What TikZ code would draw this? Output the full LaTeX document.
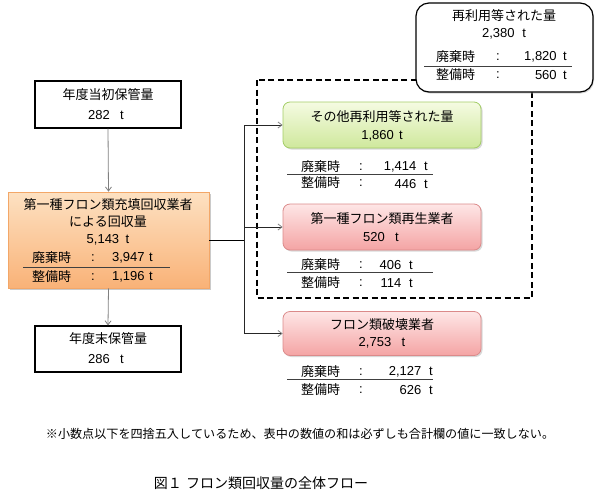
\documentclass[tikz,border=0pt]{standalone}
\usepackage{fontspec}
\setmainfont{Liberation Sans}
\newfontfamily\cjk{Noto Sans CJK JP}
\newfontfamily\cjkfull[Kerning=Off]{Noto Sans CJK JP}
\usetikzlibrary{arrows.meta,shadows}
\definecolor{orTop}{HTML}{FDE1C2}
\definecolor{orBot}{HTML}{F9B277}
\definecolor{orLine}{HTML}{F3A768}
\definecolor{grTop}{HTML}{F5FBE2}
\definecolor{grBot}{HTML}{CFE89C}
\definecolor{grLine}{HTML}{A3CD66}
\definecolor{rdTop}{HTML}{FEE6E6}
\definecolor{rdBot}{HTML}{F4A4A4}
\definecolor{rdLine}{HTML}{DB8A8A}
\newcommand\tunit[2][0.6em]{#2\hspace{#1}t}
\begin{document}
\begin{tikzpicture}[x=1pt,y=-1pt,
  txt/.style={inner sep=0pt,font=\fontsize{13}{15}\selectfont},
  plainbox/.style={draw=black,line width=1.2pt,fill=white,inner sep=0pt},
  orbox/.style={draw=orLine,line width=0.8pt,top color=orTop,bottom color=orBot,inner sep=0pt,
    drop shadow={shadow xshift=2pt,shadow yshift=-2pt,fill=black!35,opacity=0.6}},
  grbox/.style={draw=grLine,line width=0.8pt,rounded corners=7pt,top color=grTop,bottom color=grBot,inner sep=0pt,
    drop shadow={shadow xshift=1.5pt,shadow yshift=-1.5pt,fill=black!30,opacity=0.5}},
  rdbox/.style={draw=rdLine,line width=0.8pt,rounded corners=7pt,top color=rdTop,bottom color=rdBot,inner sep=0pt,
    drop shadow={shadow xshift=1.5pt,shadow yshift=-1.5pt,fill=black!30,opacity=0.5}},
  garrow/.style={draw=black!50,line width=0.8pt,-{Straight Barb[length=4pt,width=6pt]}},
  conn/.style={draw=black!85,line width=0.8pt,-{Straight Barb[length=4pt,width=6pt,color=black!50]}},
  rule/.style={draw=black!75,line width=1pt},
  dashbox/.style={draw=black,line width=1.6pt,dash pattern=on 6pt off 3.5pt}
]
\useasboundingbox (0,0) rectangle (599,496);

% dashed group
\draw[dashbox] (257,80) rectangle (532,298);

% top right box
\node[plainbox,rounded corners=13pt,minimum width=177pt,minimum height=89pt,
  drop shadow={shadow xshift=1pt,shadow yshift=-1.5pt,fill=black!30,opacity=0.5}] (top) at (504.5,47.5) {};
\node[txt] (topt1) at (504,16) {\cjk 再利用等された量};
\node[txt] (topt2) at (504,34) {\tunit{2,380}};
\node[txt,anchor=west] (topl1) at (436,57) {\cjk 廃棄時};
\node[txt] (topc1) at (498,57) {:};
\node[txt,anchor=east] (topn1) at (567,57) {\tunit[0.5em]{1,820}};
\draw[rule] (424,66.5) -- (572,66.5);
\node[txt,anchor=west] (topl2) at (436,75) {\cjk 整備時};
\node[txt] (topc2) at (498,75) {:};
\node[txt,anchor=east] (topn2) at (567,75) {\tunit[0.5em]{560}};

% left column
\node[plainbox,minimum width=146pt,minimum height=47pt] (start) at (108,104.5) {};
\node[txt] (startt1) at (108,95) {\cjk 年度当初保管量};
\node[txt] (startt2) at (106,115) {\tunit[0.8em]{282}};

\node[orbox,minimum width=201pt,minimum height=96pt] (coll) at (108.5,240) {};
\node[txt] (collt1) at (108,205) {\cjk 第一種フロン類充填回収業者};
\node[txt] (collt2) at (108,222) {\cjk による回収量};
\node[txt] (collt3) at (108,240) {\tunit[0.5em]{5,143}};
\node[txt,anchor=west] (colll1) at (32,258) {\cjk 廃棄時};
\node[txt] (collc1) at (93,258) {:};
\node[txt,anchor=east] (colln1) at (153,258) {\tunit[0.35em]{3,947}};
\draw[rule] (23,267) -- (170,267);
\node[txt,anchor=west] (colll2) at (32,277) {\cjk 整備時};
\node[txt] (collc2) at (93,277) {:};
\node[txt,anchor=east] (colln2) at (153,277) {\tunit[0.35em]{1,196}};

\node[plainbox,minimum width=146pt,minimum height=46pt] (end) at (108,349) {};
\node[txt] (endt1) at (108,339) {\cjk 年度末保管量};
\node[txt] (endt2) at (106,359) {\tunit[0.8em]{286}};

\draw[garrow] (start.south) -- (coll.north);
\draw[garrow] (coll.south) -- (end.north);

% right column
\node[grbox,minimum width=198pt,minimum height=46pt] (green) at (382,125) {};
\node[txt] (greent1) at (382,117) {\cjk その他再利用等された量};
\node[txt] (greent2) at (382,136) {\tunit[0.4em]{1,860}};
\node[txt,anchor=west] (greenl1) at (301,167) {\cjk 廃棄時};
\node[txt] (greenc1) at (361,167) {:};
\node[txt,anchor=east] (greenn1) at (428,167) {\tunit{1,414}};
\draw[rule] (287,174) -- (433,174);
\node[txt,anchor=west] (greenl2) at (301,183) {\cjk 整備時};
\node[txt] (greenc2) at (361,183) {:};
\node[txt,anchor=east] (greenn2) at (428,184) {\tunit{446}};

\node[rdbox,minimum width=198pt,minimum height=46pt] (regen) at (382,227) {};
\node[txt] (regent1) at (382,219) {\cjk 第一種フロン類再生業者};
\node[txt] (regent2) at (381,237) {\tunit[0.8em]{520}};
\node[txt,anchor=west] (regenl1) at (301,265) {\cjk 廃棄時};
\node[txt] (regenc1) at (361,265) {:};
\node[txt,anchor=east] (regenn1) at (413,265) {\tunit{406}};
\draw[rule] (287,272) -- (433,272);
\node[txt,anchor=west] (regenl2) at (301,283) {\cjk 整備時};
\node[txt] (regenc2) at (361,283) {:};
\node[txt,anchor=east] (regenn2) at (413,283) {\tunit{114}};

\node[rdbox,minimum width=198pt,minimum height=44pt] (destr) at (382,333.5) {};
\node[txt] (destrt1) at (382,325) {\cjk フロン類破壊業者};
\node[txt] (destrt2) at (382,343) {\tunit[0.8em]{2,753}};
\node[txt,anchor=west] (destrl1) at (301,372) {\cjk 廃棄時};
\node[txt] (destrc1) at (361,372) {:};
\node[txt,anchor=east] (destrn1) at (433,372) {\tunit{2,127}};
\draw[rule] (287,379) -- (433,379);
\node[txt,anchor=west] (destrl2) at (301,390) {\cjk 整備時};
\node[txt] (destrc2) at (361,390) {:};
\node[txt,anchor=east] (destrn2) at (433,390) {\tunit{626}};

% connectors
\coordinate (J) at (244,240);
\draw[draw=black,line width=1pt] (coll.east) -- (J);
\draw[conn] (J) |- (green.west);
\draw[conn] (J) |- (regen.west);
\draw[conn] (J) |- (destr.west);

% footnote and caption
\node[inner sep=0pt,font=\fontsize{12.1}{14}\selectfont\cjkfull] (note) at (300,434)
  {※小数点以下を四捨五入しているため、表中の数値の和は必ずしも合計欄の値に一致しない。};
\node[inner sep=0pt,font=\fontsize{14}{16}\selectfont\cjkfull] (cap) at (261,483)
  {図１\hspace{0.3em}フロン類回収量の全体フロー};
\end{tikzpicture}
\end{document}
